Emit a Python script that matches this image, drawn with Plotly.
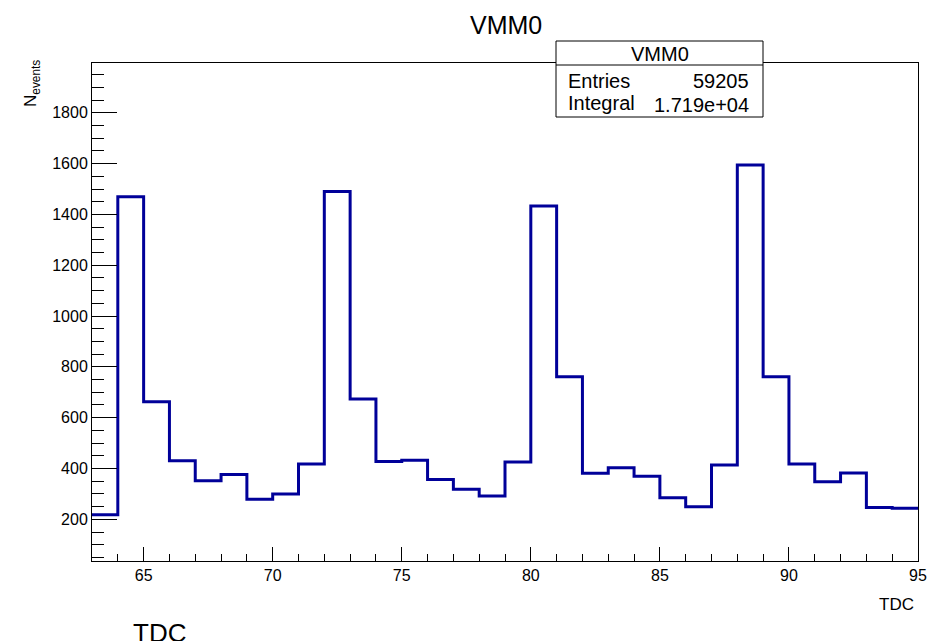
import plotly.graph_objects as go

# ---- data ----
bin_edges = list(range(63, 96))  # 63..95, width 1
counts = [218, 1470, 663, 431, 352, 376, 279, 300, 418, 1490,
          674, 428, 433, 357, 318, 292, 426, 1433, 761, 381,
          403, 370, 285, 250, 414, 1595, 761, 418, 348, 382,
          247, 244]
hist_name = "VMM0"
stat_labels = ["Entries", "Integral"]
stat_values = ["59205", "1.719e+04"]
x_title = "TDC"
y_title = "N<sub>events</sub>"

# page body adds an 8px margin, so the figure is made 8px smaller
OFF = 8
W, H = 942 - OFF, 641 - OFF
L, T = 92 - OFF, 63 - OFF
R = W - (918 - OFF)
B = H - (561 - OFF)
PW, PH = W - L - R, H - T - B


def px(x):
    # screen pixel -> paper
    return (x - OFF - L) / PW


def py(y):
    return (H - B - (y - OFF)) / PH


FONT = "Liberation Sans, Arial, Helvetica, sans-serif"

fig = go.Figure()
fig.add_trace(go.Scatter(
    x=bin_edges,
    y=counts + [counts[-1]],
    mode="lines",
    line=dict(shape="hv", color="#000099", width=3),
    hoverinfo="skip",
    showlegend=False,
))

axis_common = dict(
    showline=True, linecolor="black", linewidth=1, mirror=True,
    showgrid=False, zeroline=False, ticks="inside", tickcolor="black",
    tickwidth=1, tickfont=dict(family=FONT, size=16, color="black"),
)

fig.update_xaxes(range=[63, 95], tick0=65, dtick=5, ticklen=14,
                 minor=dict(dtick=1, ticks="inside", ticklen=7, tickcolor="black"),
                 **axis_common)
fig.update_yaxes(range=[36, 1996], tick0=0, dtick=200, ticklen=25,
                 minor=dict(dtick=50, ticks="inside", ticklen=12, tickcolor="black"),
                 **axis_common)

shapes = [
    dict(type="rect", xref="paper", yref="paper",
         x0=px(556), x1=px(763), y0=py(117), y1=py(41),
         line=dict(color="black", width=1), fillcolor="white", layer="above"),
    dict(type="line", xref="paper", yref="paper",
         x0=px(556), x1=px(763), y0=py(65), y1=py(65),
         line=dict(color="black", width=1), layer="above"),
]

annotations = [
    # main title
    dict(text=hist_name, x=px(506), y=py(25), xref="paper", yref="paper",
         xanchor="center", yanchor="middle", showarrow=False,
         font=dict(family=FONT, size=25, color="black")),
    # stats header
    dict(text=hist_name, x=px(659.5), y=py(54), xref="paper", yref="paper",
         xanchor="center", yanchor="middle", showarrow=False,
         font=dict(family=FONT, size=20, color="black")),
    # x title (right)
    dict(text=x_title, x=px(916), y=py(604), xref="paper", yref="paper",
         xanchor="right", yanchor="middle", showarrow=False,
         font=dict(family=FONT, size=17, color="black")),
    # stray x title (bottom left, clipped)
    dict(text=x_title, x=px(131), y=py(633), xref="paper", yref="paper",
         xanchor="left", yanchor="middle", showarrow=False,
         font=dict(family=FONT, size=26, color="black")),
    # y title
    dict(text=y_title, x=px(32), y=py(84), xref="paper", yref="paper",
         xanchor="center", yanchor="middle", textangle=-90, showarrow=False,
         font=dict(family=FONT, size=17, color="black")),
]

row_y = [81, 103]
for lab, val, yy in zip(stat_labels, stat_values, row_y):
    annotations.append(dict(text=lab, x=px(566), y=py(yy), xref="paper", yref="paper",
                            xanchor="left", yanchor="middle", showarrow=False,
                            font=dict(family=FONT, size=20, color="black")))
    annotations.append(dict(text=val, x=px(751), y=py(yy + (2 if lab == "Integral" else 0)),
                            xref="paper", yref="paper",
                            xanchor="right", yanchor="middle", showarrow=False,
                            font=dict(family=FONT, size=20, color="black")))

fig.update_layout(
    width=W, height=H,
    margin=dict(l=L, r=R, t=T, b=B),
    paper_bgcolor="white", plot_bgcolor="white",
    shapes=shapes, annotations=annotations,
    showlegend=False,
)

fig.write_html("out.html")
